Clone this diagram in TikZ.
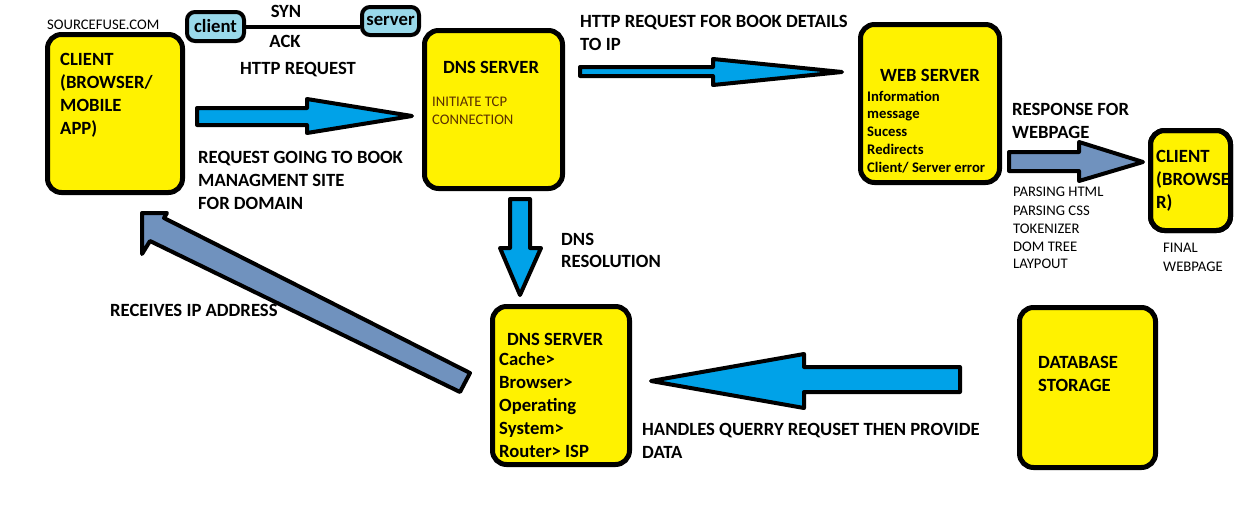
\documentclass[tikz,border=0pt]{standalone}
\usepackage{fontspec}
\setmainfont{Carlito}
\definecolor{pyellow}{HTML}{FFF200}
\definecolor{pblue}{HTML}{00A2E8}
\definecolor{pgray}{HTML}{7092BE}
\definecolor{pturq}{HTML}{99D9EA}
\definecolor{pbrown}{HTML}{5A3000}
\newcommand\fB{\fontsize{18.67}{23}\selectfont\bfseries}
\newcommand\fM{\fontsize{14.67}{18}\selectfont\bfseries}
\newcommand\fS{\fontsize{14.67}{18}\selectfont}
\tikzset{
  box/.style={draw, line width=5pt, rounded corners=14pt, fill=pyellow, inner sep=0pt, outer sep=0pt},
  tbox/.style={draw, line width=4pt, rounded corners=8pt, fill=pturq, inner sep=0pt, font=\fB},
  barrow/.style={draw, line width=4pt, fill=pblue, line join=round},
  garrow/.style={draw, line width=4pt, fill=pgray, line join=round},
  lbl/.style={anchor=west, inner sep=0pt, text height=11.8pt, text depth=0pt, font=\fB},
  lblc/.style={lbl, anchor=center},
  mlbl/.style={lbl, text height=9.3pt, font=\fM},
  slbl/.style={lbl, text height=9.3pt, font=\fS},
}
\begin{document}
\begin{tikzpicture}[x=1pt,y=-1pt]
\useasboundingbox[fill=white] (0,0) rectangle (1239,530);
% boxes
\node[box, minimum width=135pt, minimum height=158pt] (c1) at (115,113.5) {};
\node[box, minimum width=138pt, minimum height=158pt] (dns1) at (493.5,109.5) {};
\node[box, minimum width=139pt, minimum height=158pt] (web) at (930,103.5) {};
\node[box, minimum width=80pt, minimum height=100pt] (c2) at (1190.5,180.5) {};
\node[box, minimum width=137pt, minimum height=158pt] (dns2) at (561,385.5) {};
\node[box, minimum width=136pt, minimum height=160pt] (db) at (1087.5,387.5) {};
% small client/server boxes
\node[tbox, minimum width=57pt, minimum height=29pt] (cl) at (215.5,26.5) {client};
\node[tbox, minimum width=57pt, minimum height=28pt] (sv) at (390.5,21) {server};
\draw[line width=4pt] (cl.east) -- (sv.west |- cl.east);
% block arrows
\draw[barrow] (197,108) -- (307,108) -- (307,99) -- (412,116) -- (307,133) -- (307,125) -- (197,125) -- cycle;
\draw[barrow] (580,67) -- (713,67) -- (713,59) -- (842,72) -- (713,85) -- (713,76) -- (580,76) -- cycle;
\draw[garrow] (1009,152) -- (1079,152) -- (1079,142) -- (1143,162) -- (1079,181) -- (1079,171) -- (1009,171) -- cycle;
\draw[barrow] (510,199) -- (530,199) -- (530,248) -- (541,248) -- (520,295) -- (500,248) -- (510,248) -- cycle;
\draw[barrow] (651,381) -- (804,354) -- (804,367) -- (960,367) -- (960,392) -- (804,392) -- (804,408) -- cycle;
\draw[garrow] (142,213) -- (167,213) -- (164,218) -- (470,373) -- (460,392) -- (150,241) -- (142,254) -- cycle;
% texts
\node[slbl] (src) at (47,25) {SOURCEFUSE.COM};
\node[lbl] (c1a) at (60,60) {CLIENT};
\node[lbl] (c1b) at (60,83) {(BROWSER/};
\node[lbl] (c1c) at (60,106) {MOBILE};
\node[lbl] (c1d) at (60,129) {APP)};
\node[lblc] (syn) at (286,12) {SYN};
\node[lblc] (ack) at (285,42) {ACK};
\node[lblc] (httpr) at (298,69) {HTTP REQUEST};
\node[lbl] (rq1) at (198,158) {REQUEST GOING TO BOOK};
\node[lbl] (rq2) at (198,181) {MANAGMENT SITE};
\node[lbl] (rq3) at (198,204) {FOR DOMAIN};
\node[lblc] (dns1t) at (491,68) {DNS SERVER};
\node[slbl, text=pbrown] (tcp1) at (432,102) {INITIATE TCP};
\node[slbl, text=pbrown] (tcp2) at (432,120) {CONNECTION};
\node[lbl] (hb1) at (580,22) {HTTP REQUEST FOR BOOK DETAILS};
\node[lbl] (hb2) at (580,45) {TO IP};
\node[lblc] (webt) at (930,76) {WEB SERVER};
\node[mlbl] (w1) at (867,97) {Information};
\node[mlbl] (w2) at (867,114) {message};
\node[mlbl] (w3) at (867,132) {Sucess};
\node[mlbl] (w4) at (867,150) {Redirects};
\node[mlbl] (w5) at (867,168) {Client/ Server error};
\node[lbl] (rs1) at (1012,110) {RESPONSE FOR};
\node[lbl] (rs2) at (1012,133) {WEBPAGE};
\node[lbl] (c2a) at (1156,157) {CLIENT};
\node[lbl] (c2b) at (1156,180) {(BROWSE};
\node[lbl] (c2c) at (1156,203) {R)};
\draw[line width=5pt, rounded corners=14pt] (c2.south west) rectangle (c2.north east);
\node[slbl] (p1) at (1013,192) {PARSING HTML};
\node[slbl] (p2) at (1013,211) {PARSING CSS};
\node[slbl] (p3) at (1013,229) {TOKENIZER};
\node[slbl] (p4) at (1013,247) {DOM TREE};
\node[slbl] (p5) at (1013,264) {LAYPOUT};
\node[slbl] (f1) at (1163,248) {FINAL};
\node[slbl] (f2) at (1163,267) {WEBPAGE};
\node[lbl] (dr1) at (561,240) {DNS};
\node[lbl] (dr2) at (561,262) {RESOLUTION};
\node[lbl] (rip) at (110,311) {RECEIVES IP ADDRESS};
\node[lblc] (dns2t) at (555,340) {DNS SERVER};
\node[lbl] (d1) at (499,360) {Cache>};
\node[lbl] (d2) at (499,383) {Browser>};
\node[lbl] (d3) at (499,406) {Operating};
\node[lbl] (d4) at (499,429) {System>};
\node[lbl] (d5) at (499,452) {Router> ISP};
\node[lbl] (hq1) at (642,430) {HANDLES QUERRY REQUSET THEN PROVIDE};
\node[lbl] (hq2) at (642,453) {DATA};
\node[lbl] (db1) at (1038,363) {DATABASE};
\node[lbl] (db2) at (1038,386) {STORAGE};
\end{tikzpicture}
\end{document}
